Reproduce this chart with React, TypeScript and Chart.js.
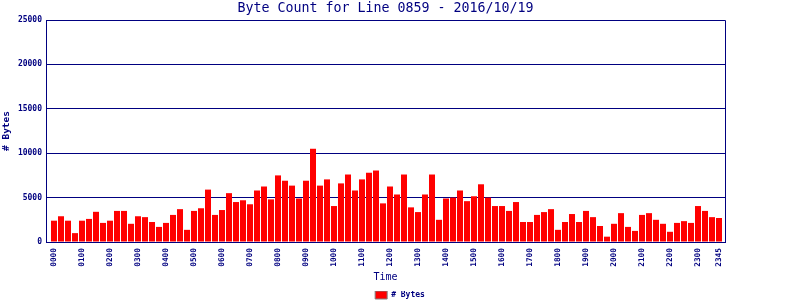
import React, { useEffect, useRef } from "react";
import { Chart, registerables } from "chart.js";

Chart.register(...registerables);

const TITLE = "Byte Count for Line 0859 - 2016/10/19";
const SERIES_LABEL = "# Bytes";
const X_TITLE = "Time";
const Y_TITLE = "# Bytes";

const HOURS = ["00","01","02","03","04","05","06","07","08","09","10","11","12","13","14","15","16","17","18","19","20","21","22","23"];
const MINUTES = ["00", "15", "30", "45"];
const categories: string[] = HOURS.flatMap((h) => MINUTES.map((m) => h + m));

const byteCounts: number[] = [
  2400, 2900, 2400, 1000, 2400, 2600, 3400, 2150, 2400, 3500,
  3500, 2050, 2900, 2800, 2250, 1700, 2150, 3050, 3700, 1370,
  3500, 3800, 5900, 3050, 3600, 5500, 4500, 4700, 4250, 5800,
  6250, 4800, 7500, 6900, 6350, 4900, 6900, 10500, 6350, 7050,
  4050, 6600, 7600, 5800, 7050, 7800, 8050, 4350, 6250, 5350,
  7600, 3900, 3370, 5350, 7600, 2500, 4900, 5000, 5800, 4600,
  5150, 6500, 5000, 4050, 4050, 3500, 4500, 2250, 2250, 3050,
  3370, 3700, 1370, 2250, 3150, 2250, 3500, 2800, 1800, 600,
  2050, 3250, 1700, 1250, 3050, 3250, 2500, 2050, 1150, 2150,
  2350, 2150, 4050, 3500, 2800, 2700,
];

const Y_MIN = 0;
const Y_MAX = 25000;
const Y_STEP = 5000;

const NAVY = "#000080";
const MONO = "'DejaVu Sans Mono', 'Liberation Mono', monospace";

const framePlugin = {
  id: "frame",
  afterDraw(chart: any) {
    const { ctx, chartArea } = chart;
    ctx.save();
    ctx.strokeStyle = NAVY;
    ctx.lineWidth = 1;
    const l = Math.round(chartArea.left) + 0.5;
    const r = Math.round(chartArea.right) + 0.5;
    const t = Math.round(chartArea.top) + 0.5;
    const b = Math.round(chartArea.bottom) + 0.5;
    ctx.beginPath();
    ctx.moveTo(r, t);
    ctx.lineTo(r, b);
    ctx.moveTo(l, t);
    ctx.lineTo(r, t);
    ctx.stroke();
    ctx.restore();
  },
};

export default function App() {
  const canvasRef = useRef<HTMLCanvasElement | null>(null);

  useEffect(() => {
    document.body.style.margin = "0";
    const canvas = canvasRef.current;
    if (!canvas) return;
    const chart = new Chart(canvas, {
      type: "bar",
      data: {
        labels: categories,
        datasets: [
          {
            label: SERIES_LABEL,
            data: byteCounts,
            backgroundColor: "#ff0000",
            borderWidth: 0,
            barPercentage: 0.857,
            categoryPercentage: 1.0,
            yAxisID: "y",
          },
        ],
      },
      options: {
        responsive: false,
        animation: false,
        layout: { padding: { left: 0, right: 0, top: 0, bottom: -9 } },
        plugins: {
          title: {
            display: true,
            fullSize: false,
            text: TITLE,
            color: NAVY,
            font: { family: MONO, size: 13.3, weight: "normal", lineHeight: 1.2 },
            padding: { top: 0.5, bottom: 3.54 },
          },
          legend: {
            display: true,
            position: "bottom",
            labels: {
              color: NAVY,
              boxWidth: 12,
              boxHeight: 8,
              padding: 0,
              font: { family: MONO, size: 8, weight: "bold" },
              generateLabels: (c: any) =>
                Chart.defaults.plugins.legend.labels.generateLabels(c).map((it: any) => ({
                  ...it,
                  strokeStyle: "#808080",
                  lineWidth: 1,
                })),
            },
          },
          tooltip: { enabled: false },
        },
        scales: {
          x: {
            afterFit: (s: any) => {
              s.height = 49;
            },
            afterBuildTicks: (s: any) => {
              s._startValue = -0.5 - 0.643;
              s._valueRange = categories.length + 1;
            },
            grid: { display: false, drawTicks: false },
            border: { display: true, color: NAVY, width: 1 },
            ticks: {
              autoSkip: false,
              maxRotation: 90,
              minRotation: 90,
              padding: 6,
              color: NAVY,
              font: { family: MONO, size: 7.8, weight: "bold" },
              callback: function (this: any, value: any, index: number) {
                if (index % 4 === 0 || index === categories.length - 1) {
                  return categories[index];
                }
                return null;
              },
            },
            title: {
              display: true,
              text: X_TITLE,
              color: NAVY,
              font: { family: MONO, size: 10, weight: "normal", lineHeight: 1.2 },
              padding: { top: 0, bottom: 8 },
            },
          },
          y: {
            min: Y_MIN,
            max: Y_MAX,
            position: "left",
            afterFit: (s: any) => {
              s.width = 46;
            },
            grid: { color: NAVY, lineWidth: 1, drawTicks: false },
            border: { display: true, color: NAVY, width: 1 },
            ticks: {
              stepSize: Y_STEP,
              padding: 4,
              color: NAVY,
              font: { family: MONO, size: 8, weight: "bold" },
              callback: (v: any) => String(v),
            },
            title: {
              display: true,
              text: Y_TITLE,
              color: NAVY,
              font: { family: MONO, size: 9.5, weight: "bold", lineHeight: 1.2 },
              padding: { top: 1.3, bottom: 0 },
            },
          },
          yRight: {
            position: "right",
            display: true,
            afterFit: (s: any) => {
              s.width = 75;
            },
            grid: { display: false, drawTicks: false },
            border: { display: false },
            ticks: { display: false },
          },
        },
      },
      plugins: [framePlugin],
    } as any);
    return () => chart.destroy();
  }, []);

  return (
    <div style={{ width: 800, height: 300 }}>
      <canvas ref={canvasRef} width={800} height={300} />
    </div>
  );
}
